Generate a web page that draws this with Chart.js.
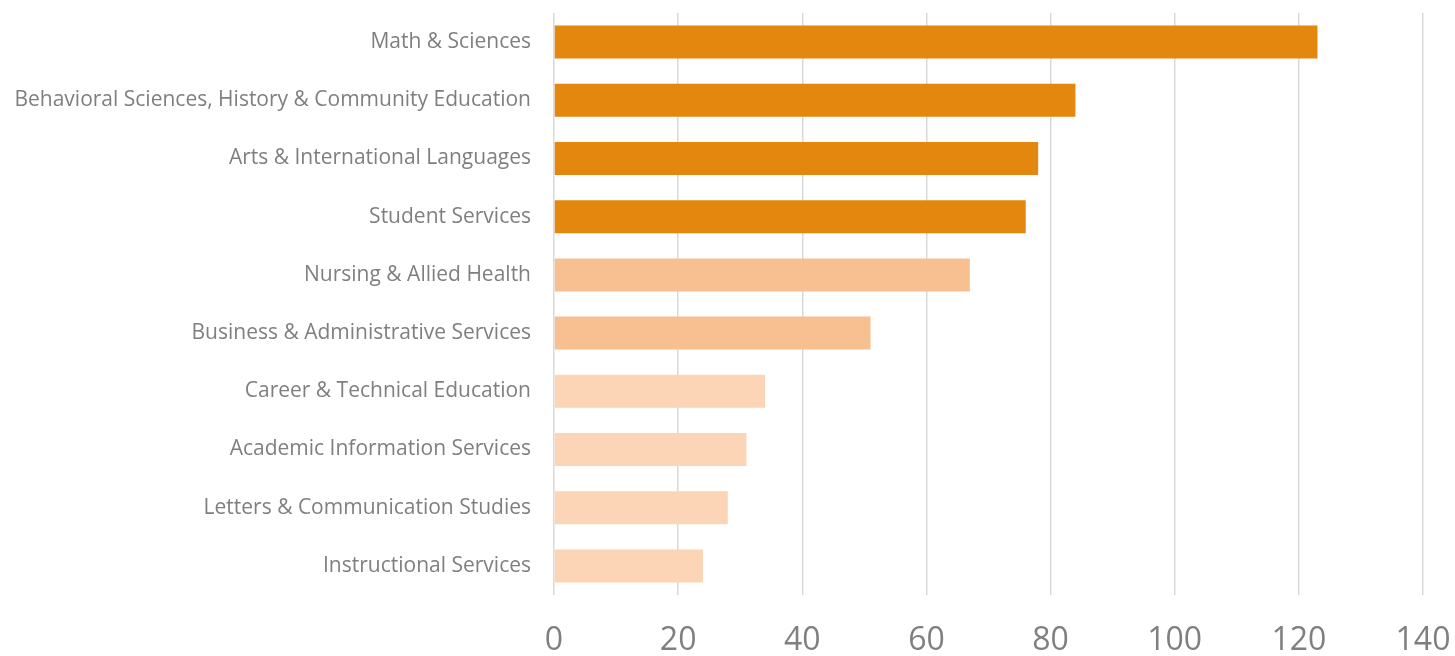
<!DOCTYPE html>
<html>
<head>
<meta charset="utf-8">
<script src="https://cdn.jsdelivr.net/npm/chart.js@4.4.1/dist/chart.umd.min.js"></script>
<style>
  html, body { margin: 0; padding: 0; background: #fff; }
  #wrap { width: 1455px; height: 656px; }
</style>
</head>
<body>
<div id="wrap"><canvas id="grapDepartamentos"></canvas></div>
<script>
var departamentos = [
  'Math & Sciences',
  'Behavioral Sciences, History & Community Education',
  'Arts & International Languages',
  'Student Services',
  'Nursing & Allied Health',
  'Business & Administrative Services',
  'Career & Technical Education',
  'Academic Information Services',
  'Letters & Communication Studies',
  'Instructional Services'
];
var cantidades = [123, 84, 78, 76, 67, 51, 34, 31, 28, 24];
var xTicks = [0, 20, 40, 60, 80, 100, 120, 140];

// tono por grupo: oscuro / medio / claro
var colores = [
  '#E3870E', '#E3870E', '#E3870E', '#E3870E',
  '#F8C091', '#F8C091',
  '#FBD5B6', '#FBD5B6', '#FBD5B6', '#FBD5B6'
];

var gris = '#7F7F7F';

var ctx = document.getElementById('grapDepartamentos');
new Chart(ctx, {
  type: 'bar',
  data: {
    labels: departamentos,
    datasets: [{
      data: cantidades,
      backgroundColor: colores,
      borderWidth: 0,
      barPercentage: 0.567,
      categoryPercentage: 1
    }]
  },
  options: {
    indexAxis: 'y',
    responsive: true,
    maintainAspectRatio: false,
    animation: false,
    layout: { padding: { top: 13, right: 32, bottom: 0, left: 0 } },
    plugins: {
      legend: { display: false },
      tooltip: { enabled: false }
    },
    scales: {
      x: {
        min: 0,
        max: 140,
        afterBuildTicks: function (scale) {
          scale.ticks = xTicks.map(function (v) { return { value: v }; });
        },
        afterFit: function (scale) {
          scale.height = 61;
          scale.paddingLeft = 0;
          scale.paddingRight = 0;
        },
        grid: { color: '#D9D9D9', lineWidth: 1.5, drawTicks: false },
        border: { display: false },
        ticks: {
          color: gris,
          padding: 27,
          font: { family: 'Open Sans', size: 32 }
        }
      },
      y: {
        afterFit: function (scale) {
          scale.width = 554;
          scale.paddingTop = 0;
          scale.paddingBottom = 0;
        },
        grid: { display: false, drawTicks: false },
        border: { display: false },
        ticks: {
          color: gris,
          padding: 23,
          font: { family: 'Open Sans', size: 21 }
        }
      }
    }
  }
});
</script>
</body>
</html>
